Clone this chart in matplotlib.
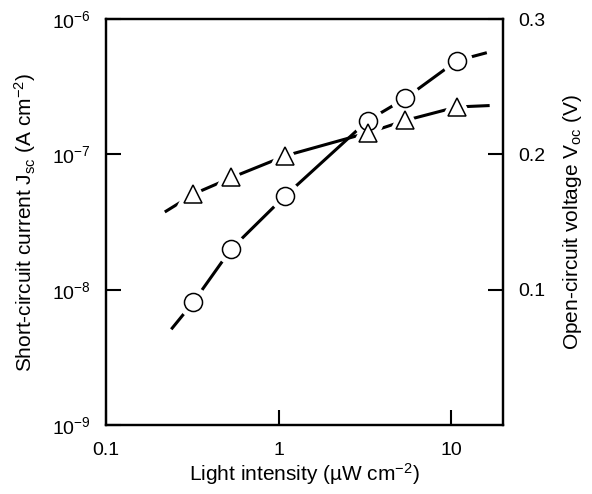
import numpy as np
import matplotlib.pyplot as plt

plt.rcParams['font.family'] = ['Liberation Sans', 'DejaVu Sans']
plt.rcParams['mathtext.fontset'] = 'custom'
plt.rcParams['mathtext.rm'] = 'Liberation Sans'
plt.rcParams['mathtext.it'] = 'Liberation Sans:italic'
plt.rcParams['mathtext.bf'] = 'Liberation Sans:bold'

# Measured points
intensity = [0.32, 0.53, 1.09, 3.28, 5.42, 10.8]          # uW cm^-2
jsc = [8.05e-9, 1.99e-8, 4.92e-8, 1.77e-7, 2.59e-7, 4.92e-7]  # A cm^-2
voc = [0.171, 0.183, 0.199, 0.216, 0.225, 0.235]          # V

# Fitted curves as drawn (vertices)
jsc_fit_x = [0.242, 0.32, 0.53, 1.09, 3.28, 5.42, 10.8, 15.8]
jsc_fit_y = [5.2e-9, 8.05e-9, 1.99e-8, 4.92e-8, 1.77e-7, 2.59e-7, 4.92e-7, 5.6e-7]
voc_fit_x = [0.223, 0.326, 0.538, 1.10, 3.31, 5.42, 10.8, 16.4]
voc_fit_y = [0.158, 0.171, 0.183, 0.199, 0.216, 0.225, 0.235, 0.236]

x_ticks = [0.1, 1, 10]
x_labels = ['0.1', '1', '10']
jsc_ticks = [1e-9, 1e-8, 1e-7, 1e-6]
jsc_labels = [r'$\mathregular{10^{-9}}$', r'$\mathregular{10^{-8}}$',
              r'$\mathregular{10^{-7}}$', r'$\mathregular{10^{-6}}$']
voc_ticks = [0.1, 0.2, 0.3]
voc_labels = ['0.1', '0.2', '0.3']

fig = plt.figure(figsize=(5.92, 4.94), dpi=100)
ax = fig.add_axes([106 / 592, 69 / 494, 397 / 592, 406 / 494])
ax.set_xscale('log')
ax.set_yscale('log')
ax.set_xlim(0.1, 20)
ax.set_ylim(1e-9, 1e-6)

ax2 = ax.twinx()
ax2.set_ylim(0, 0.3)

# everything drawn on ax2 so z-order works across both series
jt = ax.transData
lw = 2.2
ax2.plot(jsc_fit_x, jsc_fit_y, color='black', lw=lw, transform=jt, zorder=1)
ax2.plot(voc_fit_x, voc_fit_y, color='black', lw=lw, zorder=1)

# white halos around markers (gap in the line)
ax2.plot(intensity, jsc, ls='none', marker='o', ms=13, mfc='white', mec='white',
         mew=9, transform=jt, zorder=2)
ax2.plot(intensity, voc, ls='none', marker='^', ms=13, mfc='white', mec='white',
         mew=7, zorder=2)

ax2.plot(intensity, jsc, ls='none', marker='o', ms=13, mfc='white', mec='black',
         mew=1.1, transform=jt, zorder=3)
ax2.plot(intensity, voc, ls='none', marker='^', ms=13, mfc='white', mec='black',
         mew=1.1, zorder=4)

# ticks and labels
ax.set_xticks(x_ticks)
ax.set_xticklabels(x_labels)
ax.xaxis.set_minor_locator(plt.NullLocator())
ax.set_yticks(jsc_ticks)
ax.set_yticklabels(jsc_labels)
ax.yaxis.set_minor_locator(plt.NullLocator())
ax2.set_yticks(voc_ticks)
ax2.set_yticklabels(voc_labels)
ax2.yaxis.set_minor_locator(plt.NullLocator())

ax.tick_params(axis='x', direction='in', length=11, width=1.5, labelsize=14, pad=12)
ax.tick_params(axis='y', direction='in', length=11, width=1.5, labelsize=14, pad=11)
ax2.tick_params(axis='y', direction='in', length=11, width=1.5, labelsize=14, pad=11)

for a in (ax, ax2):
    for s in a.spines.values():
        s.set_linewidth(1.6)

ax.set_xlabel('Light intensity (µW cm$^{-2}$)', fontsize=15, labelpad=2)
ax.set_ylabel(r'Short-circuit current J$_{\mathregular{sc}}$ (A cm$^{-2}$)', fontsize=15, labelpad=10)
ax2.set_ylabel(r'Open-circuit voltage V$_{\mathregular{oc}}$ (V)', fontsize=15, labelpad=11)

fig.savefig('out.png', dpi=100)
